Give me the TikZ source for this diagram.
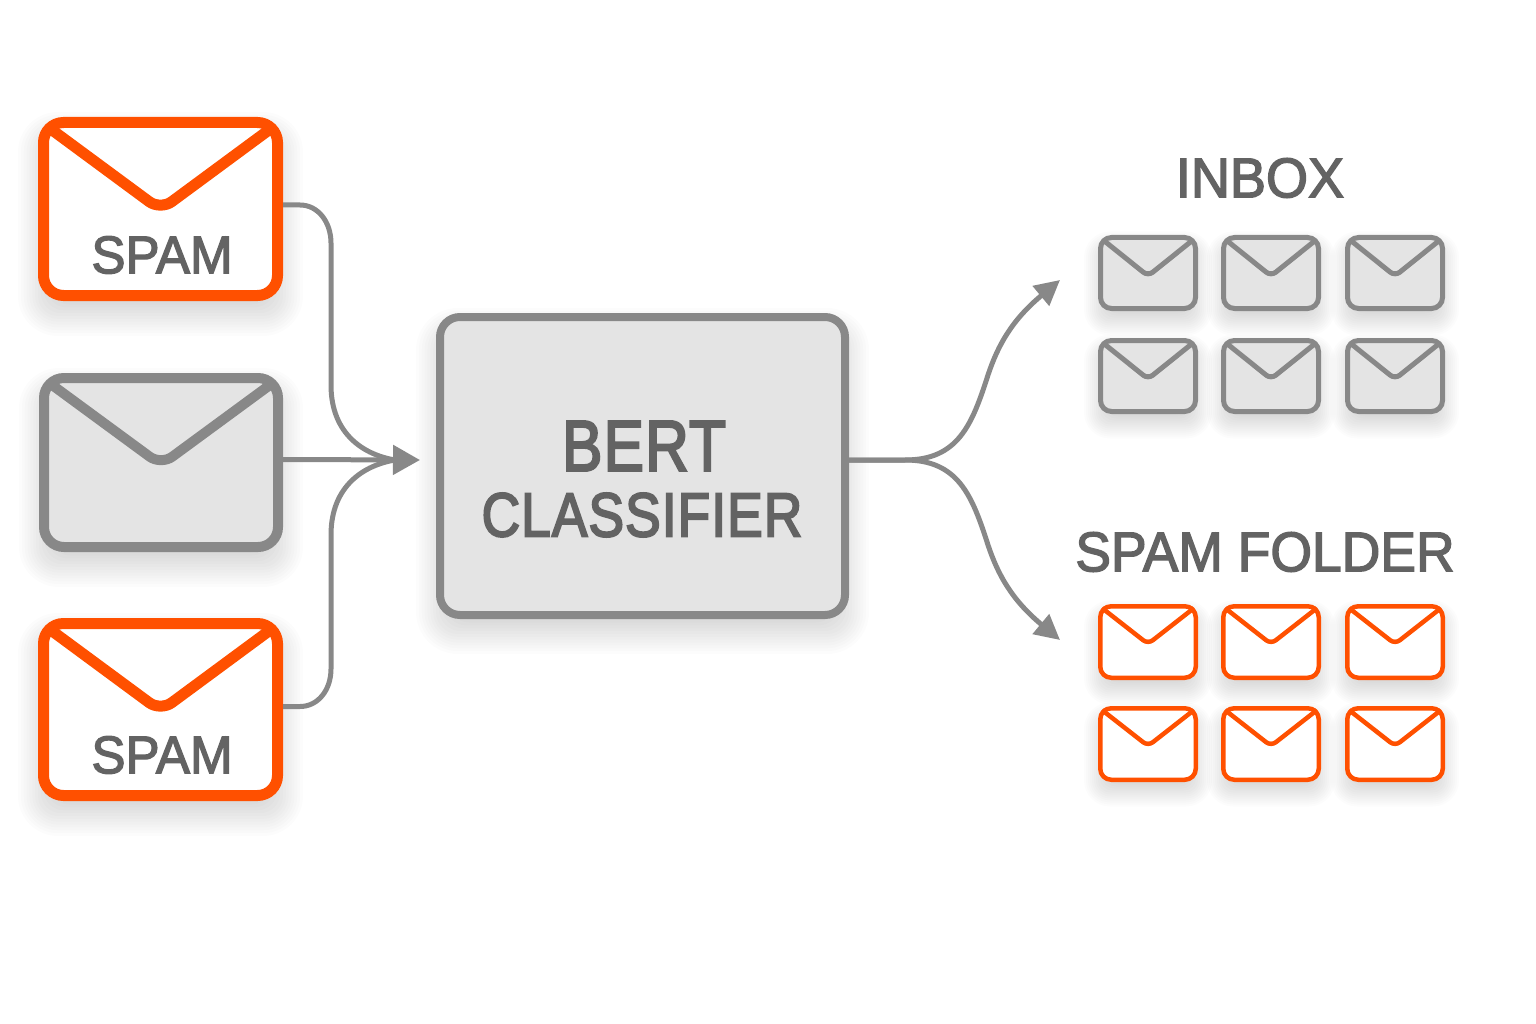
\documentclass[tikz,border=0pt]{standalone}
\usepackage{fontspec}
\usepackage{graphicx}
\setmainfont{Liberation Sans}
\newfontfamily\medfont[FakeBold=2.5]{Liberation Sans}
\newfontfamily\boldishfont[FakeBold=3.4,LetterSpace=2]{Liberation Sans}
\usetikzlibrary{arrows.meta,calc}
\definecolor{linegray}{HTML}{888888}
\definecolor{fillgray}{HTML}{E4E4E4}
\definecolor{spamred}{HTML}{FF5000}
\definecolor{labelgray}{HTML}{636363}
\tikzset{
  conn/.style={draw=linegray,line width=5pt,line join=round},
  tiparrow/.style={-{Triangle[length=27pt,width=29pt,color=linegray]}},
  tipsmall/.style={-{Triangle[length=25pt,width=25pt,color=linegray]}},
  label/.style={text=labelgray,inner sep=0pt,anchor=center},
}
% x0,y0,x1,y1, radius, shadow size
\newcommand{\mailshadow}[6]{%
  \foreach \i in {0,...,13}{
    \pgfmathsetmacro{\grow}{#6*(1-\i/7)}
    \pgfmathsetmacro{\rad}{#5+max(\grow,0)}
    \fill[black,opacity=0.0105,rounded corners=\rad pt]
      ({#1-\grow},{#2-\grow+#6*0.75}) rectangle ({#3+\grow},{#4+\grow+#6*0.75});
  }}
% name, outer x0,y0,x1,y1, line width, stroke, fill, radius
\newcommand{\mailnode}[9]{%
  \pgfmathsetmacro{\cx}{(#2+#4)/2}\pgfmathsetmacro{\cy}{(#3+#5)/2}
  \pgfmathsetmacro{\bw}{#4-#2-#6}\pgfmathsetmacro{\bh}{#5-#3-#6}
  \node[draw=#7,fill=#8,line width=#6pt,rounded corners=#9pt,minimum width=\bw pt,minimum height=\bh pt,inner sep=0pt] (#1) at (\cx,\cy) {};
}
\newcommand{\mailflap}[5]{% name,lw,depth,radius,colour
  \draw[#5,line width=#2pt,rounded corners=#4pt]
    ($(#1.north west)+(#2*0.9,#2*0.9)$) -- ($(#1.north)+(0,#3)$) -- ($(#1.north east)+(-#2*0.9,#2*0.9)$);
}
\begin{document}
\begin{tikzpicture}[x=1pt,y=-1pt]
\useasboundingbox (0,0) rectangle (1536,1024);
% shadows
\mailshadow{38}{117}{283}{301}{20}{20}
\mailshadow{39}{373}{283}{552}{20}{20}
\mailshadow{38}{618}{283}{801}{20}{20}
\mailshadow{436}{313}{849}{619}{22}{20}
\foreach \x in {1098,1221,1345}{\foreach \y in {235,338,604,706}{
  \mailshadow{\x}{\y}{\x+100}{\y+76}{12}{14}}}
% envelopes and box
\mailnode{mailA}{38}{117}{283}{301}{11}{spamred}{white}{20}
\mailflap{mailA}{11}{93}{14}{spamred}
\mailnode{mailB}{39}{373}{283}{552}{10}{linegray}{fillgray}{20}
\mailflap{mailB}{10}{92}{14}{linegray}
\mailnode{mailC}{38}{618}{283}{801}{11}{spamred}{white}{20}
\mailflap{mailC}{11}{93}{14}{spamred}
\mailnode{bert}{436}{313}{849}{619}{8}{linegray}{fillgray}{20}
\node[label] (lspamA) at (162,255) {\scalebox{.965}[1]{\medfont\fontsize{53}{53}\selectfont SPAM}};
\node[label] (lspamC) at (162,755) {\scalebox{.965}[1]{\medfont\fontsize{53}{53}\selectfont SPAM}};
\node[label] (lbert) at (644,446) {\scalebox{.84}[1]{\boldishfont\fontsize{72}{72}\selectfont BERT}};
\node[label] (lclass) at (642,515) {\scalebox{.86}[1]{\boldishfont\fontsize{62}{62}\selectfont CLASSIFIER}};
\node[label] (linbox) at (1260,178) {\scalebox{.965}[1]{\medfont\fontsize{56}{56}\selectfont INBOX}};
\node[label] (lfolder) at (1265,552) {\scalebox{.955}[1]{\medfont\fontsize{56}{56}\selectfont SPAM FOLDER}};
% small envelopes
\foreach \x/\c in {1098/a,1221/b,1345/c}{
  \foreach \y/\r in {235/a,338/b}{
    \mailnode{in\c\r}{\x}{\y}{\x+100}{\y+76}{5}{linegray}{fillgray}{11}
    \mailflap{in\c\r}{5}{41}{6}{linegray}
  }
  \foreach \y/\r in {604/a,706/b}{
    \mailnode{sp\c\r}{\x}{\y}{\x+100}{\y+76}{4.5}{spamred}{white}{11}
    \mailflap{sp\c\r}{4.5}{40}{6}{spamred}
  }
}
% connectors
\coordinate (join) at (420,460);
\coordinate (inboxIn) at (1060,280);
\coordinate (folderIn) at (1060,640);
\draw[conn] ($(mailA.east)+(0,-4)$) -- ++(17,0) .. controls ++(18,0) and (331,222) .. (331,243) -- (331,385) .. controls (331,435) and (365,455) .. (395,460);
\draw[conn] ($(mailC.east)+(0,-3)$) -- ++(17,0) .. controls ++(18,0) and (331,690) .. (331,669) -- (331,535) .. controls (331,485) and (365,465) .. (395,460);
\draw[conn,tiparrow] ($(mailB.east)+(0,-3)$) -- (join);
\draw[conn,tipsmall] (bert.east) ++(0,-6) -- (905,460) .. controls (958,460) and (972,425) .. (988,375) .. controls (998,345) and (1012,320) .. (inboxIn);
\draw[conn,tipsmall] (bert.east) ++(0,-6) -- (905,460) .. controls (958,460) and (972,495) .. (988,545) .. controls (998,575) and (1012,600) .. (folderIn);
\end{tikzpicture}
\end{document}
